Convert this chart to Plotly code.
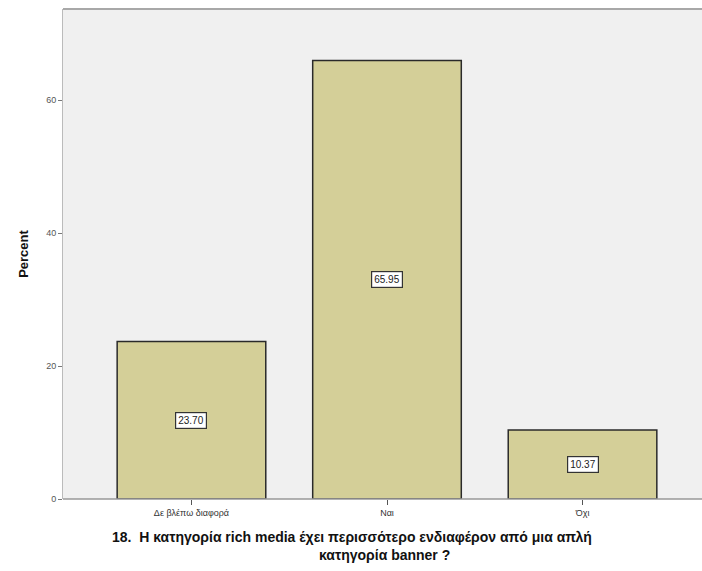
import plotly.graph_objects as go

categories = ["Δε βλέπω διαφορά", "Ναι", "Όχι"]
percent = [23.70, 65.95, 10.37]
tick_vals = [0, 20, 40, 60]
tick_text = ["0", "20", "40", "60"]
x_title_lines = ["18.  Η κατηγορία rich media έχει περισσότερο ενδιαφέρον από μια απλή",
                 "κατηγορία banner ?"]

fig = go.Figure()
fig.add_trace(go.Bar(
    x=categories, y=percent, width=0.76,
    marker=dict(color="#D4CF98", line=dict(color="#2a2a2a", width=1.5)),
    hoverinfo="skip",
))

for c, v in zip(categories, percent):
    fig.add_annotation(
        x=c, y=v / 2, text=f"{v:.2f}", showarrow=False,
        font=dict(family="Liberation Sans", size=10, color="#222"),
        bgcolor="white", bordercolor="#333", borderwidth=1.2, borderpad=2,
    )

for line, xc, ys in zip(x_title_lines, [352, 385], [-38, -56]):
    fig.add_annotation(
        xref="paper", yref="paper", x=(xc - 63) / 639, y=0, yshift=ys,
        xanchor="center", yanchor="middle", showarrow=False,
        text=f"<b>{line}</b>",
        font=dict(family="Liberation Sans", size=14, color="#111"),
    )

fig.update_layout(
    width=702, height=571,
    margin=dict(l=63, r=0, t=9, b=72),
    paper_bgcolor="white", plot_bgcolor="#F0F0F0",
    showlegend=False,
    font=dict(family="Liberation Sans", color="#222"),
    xaxis=dict(
        range=[-0.657, 2.611], showgrid=False, zeroline=False,
        showline=False, ticks="outside", ticklen=5, tickcolor="#555",
        tickfont=dict(size=9, color="#333"),
    ),
    yaxis=dict(
        range=[0, 73.7], showgrid=False, zeroline=False,
        showline=True, linecolor="#BBBBBB", linewidth=1,
        tickvals=tick_vals, ticktext=tick_text,
        ticks="outside", ticklen=4, tickcolor="#777",
        tickfont=dict(size=9, color="#555"),
        title=dict(text="<b>Percent</b>", font=dict(size=13, color="#111"), standoff=14),
    ),
    shapes=[
        dict(type="line", xref="paper", yref="paper", x0=0, x1=1, y0=1, y1=1,
             line=dict(color="#A8A8A8", width=2)),
        dict(type="line", xref="paper", yref="paper", x0=0, x1=1, y0=0, y1=0,
             line=dict(color="#999999", width=1.5)),
    ],
)

fig.write_html("out.html")
